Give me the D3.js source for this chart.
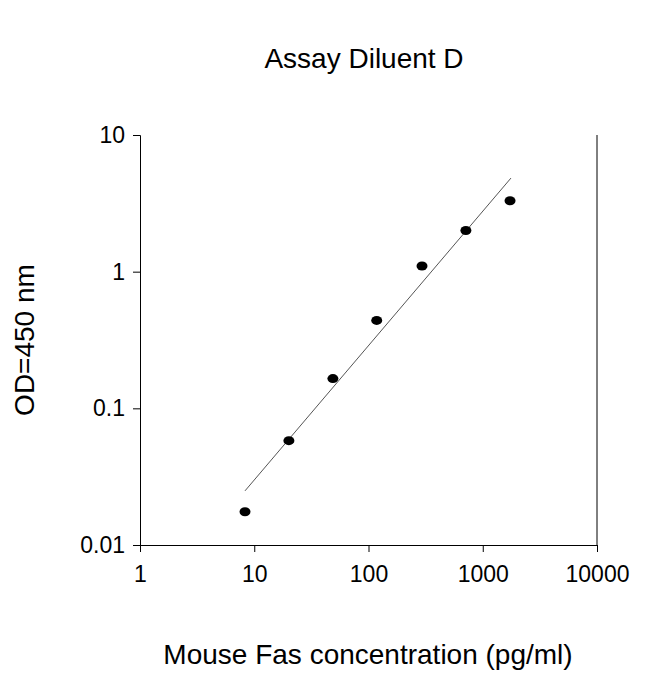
<!DOCTYPE html>
<html><head><meta charset="utf-8">
<script src="https://d3js.org/d3.v7.min.js"></script>
<style>body{margin:0;background:#fff}</style>
</head><body>
<svg id="vis"></svg>
<script>
  var concentration = [8.3, 20.1, 48.8, 118, 294, 712, 1733];
  var od = [0.0175, 0.058, 0.165, 0.44, 1.1, 2.0, 3.3];
  var fitLine = [{x: 8.3, y: 0.0249}, {x: 1766, y: 4.84}];
  var xTicks = [1, 10, 100, 1000, 10000];
  var yTicks = [0.01, 0.1, 1, 10];

  var width = 650, height = 674;
  var svg = d3.select('#vis').attr('width', width).attr('height', height)
      .style('font-family', 'Liberation Sans, Arial, sans-serif');

  var x = d3.scaleLog().domain([1, 10000]).range([140, 597]);
  var y = d3.scaleLog().domain([0.01, 10]).range([545, 135]);

  // axes
  svg.append('g').attr('transform', 'translate(0,545)')
      .call(d3.axisBottom(x).tickValues(xTicks).tickFormat(d3.format('')).tickSize(7).tickPadding(14))
      .call(g => g.select('.domain').attr('stroke', '#000'))
      .selectAll('text').attr('font-size', 23).attr('fill', '#000');

  svg.append('g').attr('transform', 'translate(140,0)')
      .call(d3.axisLeft(y).tickValues(yTicks).tickFormat(d => d >= 1 ? d : d3.format('')(d)).tickSize(7).tickPadding(8))
      .call(g => g.select('.domain').attr('stroke', '#000'))
      .selectAll('text').attr('font-size', 23).attr('fill', '#000');

  // right border
  svg.append('line').attr('x1', 597).attr('x2', 597).attr('y1', 135).attr('y2', 545)
      .attr('stroke', '#000');

  // fit line
  svg.append('line')
      .attr('x1', x(fitLine[0].x)).attr('y1', y(fitLine[0].y))
      .attr('x2', x(fitLine[1].x)).attr('y2', y(fitLine[1].y))
      .attr('stroke', '#555').attr('stroke-width', 1);

  // points
  svg.selectAll('ellipse').data(concentration).enter().append('ellipse')
      .attr('cx', d => x(d))
      .attr('cy', (d, i) => y(od[i]))
      .attr('rx', 5.5).attr('ry', 4.5)
      .attr('fill', '#000');

  // labels
  svg.append('text').attr('x', 364).attr('y', 68).attr('text-anchor', 'middle')
      .attr('font-size', 28).text('Assay Diluent D');
  svg.append('text').attr('x', 368).attr('y', 664).attr('text-anchor', 'middle')
      .attr('font-size', 28).text('Mouse Fas concentration (pg/ml)');
  svg.append('text').attr('transform', 'translate(34,340) rotate(-90)')
      .attr('text-anchor', 'middle').attr('font-size', 28).text('OD=450 nm');
</script>
</body></html>
